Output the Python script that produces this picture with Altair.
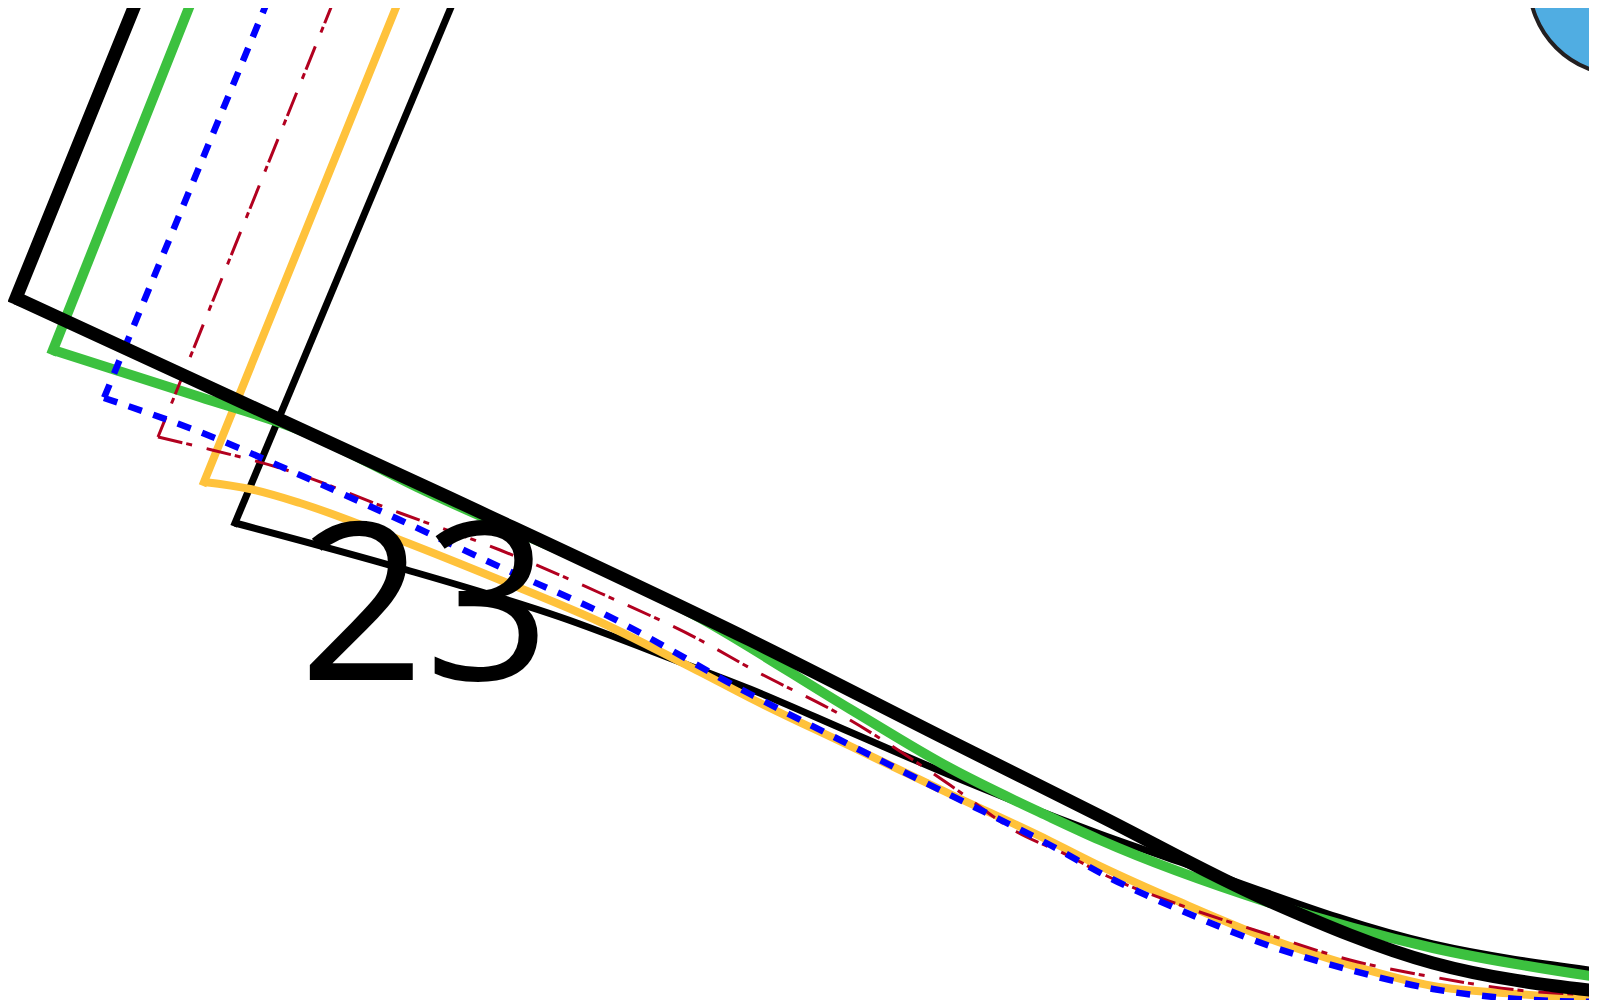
import altair as alt
import pandas as pd

# ---- data (pixel-like coordinates) ----
# each series: a straight upper leg (top -> corner) and a curved lower leg (corner -> right)
thick_black_x = [137, 16, 450, 750, 950, 1100, 1267, 1433, 1597]
thick_black_y = [0, 298, 498, 640, 741, 816, 900, 963, 991]

green_x = [192, 53, 200, 300, 417, 700, 850, 950, 1050, 1100, 1267, 1433, 1597]
green_y = [0, 350, 397, 430, 487, 618, 709, 768, 817, 840, 902, 948, 977]

blue_x = [268, 104, 200, 300, 400, 500, 600, 750, 850, 950, 1050, 1110, 1180, 1267, 1350, 1433, 1517, 1597]
blue_y = [0, 398, 432, 475, 520, 567, 612, 694, 745, 795, 845, 878, 910, 945, 970, 989, 999, 1002]

red_x = [334, 158, 200, 280, 400, 500, 600, 700, 750, 850, 950, 1017, 1067, 1107, 1180, 1270, 1350, 1433, 1517, 1597]
red_y = [0, 437, 447, 468, 513, 550, 593, 640, 668, 720, 785, 832, 855, 876, 905, 935, 960, 977, 990, 995]

yellow_x = [399, 204, 250, 300, 400, 500, 600, 700, 750, 850, 950, 1050, 1100, 1180, 1267, 1350, 1433, 1517, 1597]
yellow_y = [0, 482, 489, 503, 540, 580, 622, 672, 698, 746, 794, 841, 866, 902, 938, 965, 986, 994, 999]

thin_black_x = [454, 235, 400, 560, 680, 750, 850, 950, 1100, 1180, 1433, 1597]
thin_black_y = [0, 523, 568, 617, 662, 689, 732, 775, 834, 862, 944, 971]

circle_x = [1622]
circle_y = [-18]

label_text = ["23"]
label_x = [299]
label_y = [680]

W, H = 1581, 992
xs = alt.Scale(domain=[8, 8 + W], nice=False, zero=False)
ys = alt.Scale(domain=[8, 8 + H], reverse=True, nice=False, zero=False)


def enc(ch):
    return ch.encode(
        x=alt.X("x:Q", scale=xs, axis=None),
        y=alt.Y("y:Q", scale=ys, axis=None),
        order="ord:Q",
    )


def frame(xv, yv):
    return pd.DataFrame({"x": xv, "y": yv, "ord": list(range(len(xv)))})


def series(xv, yv, color, width, dash=None):
    base = dict(color=color, strokeWidth=width, clip=True, strokeJoin="miter")
    up_kw = dict(base)
    lo_kw = dict(base, interpolate="monotone", strokeCap="butt")
    if dash:
        up_kw["strokeDash"] = dash
        lo_kw["strokeDash"] = dash
        up_kw["strokeCap"] = "butt"
    else:
        up_kw["strokeCap"] = "square"
    upper = enc(alt.Chart(frame(xv[:2], yv[:2])).mark_line(**up_kw))
    lower = enc(alt.Chart(frame(xv[1:], yv[1:])).mark_line(**lo_kw))
    return [upper, lower]


layers = []
layers += series(thin_black_x, thin_black_y, "#000000", 7)
layers += series(yellow_x, yellow_y, "#FFC23B", 8)
layers += series(green_x, green_y, "#3CC13F", 10)
layers += series(red_x, red_y, "#B2001F", 3, [25, 4, 6, 15])
layers += series(blue_x, blue_y, "#0000FF", 6.5, [14, 12])
layers += series(thick_black_x, thick_black_y, "#000000", 13)

circ = alt.Chart(pd.DataFrame({"x": circle_x, "y": circle_y})).mark_point(
    shape="circle", filled=True, size=34600, fill="#50ADE2", fillOpacity=1,
    stroke="#231F20", strokeWidth=4, opacity=1
).encode(x=alt.X("x:Q", scale=xs, axis=None), y=alt.Y("y:Q", scale=ys, axis=None))

txt = alt.Chart(pd.DataFrame({"x": label_x, "y": label_y, "t": label_text})).mark_text(
    align="left", baseline="alphabetic", font="Open Sans", fontSize=220, color="#000000"
).encode(x=alt.X("x:Q", scale=xs, axis=None), y=alt.Y("y:Q", scale=ys, axis=None), text="t:N")

chart = alt.layer(*layers, circ, txt).properties(
    width=W, height=H, padding=0, autosize="none", background="white"
).configure_view(stroke=None)

chart.save("out.html", embed_options={"renderer": "svg", "actions": False})
